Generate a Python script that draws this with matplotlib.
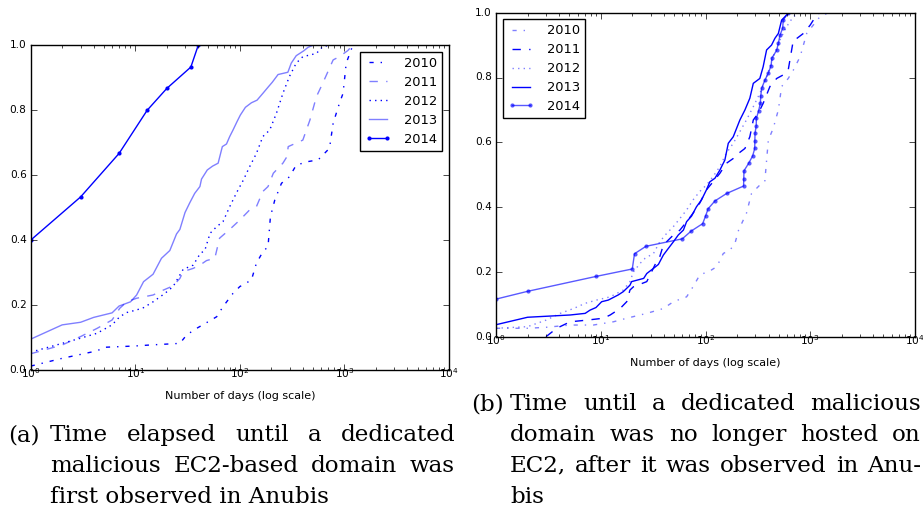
import matplotlib
matplotlib.use("Agg")
import matplotlib.pyplot as plt
from matplotlib.transforms import IdentityTransform

# ---------------- data ----------------
years = ["2010", "2011", "2012", "2013", "2014"]

# (a) time until first observed in Anubis
a2010_x = [1, 2, 3, 4.3, 5.1, 10, 13.8, 26.7, 31, 38.5, 50, 60, 69, 86, 100, 129, 144, 166, 186, 196,
           216, 250, 298, 346, 450, 560, 720, 780, 895, 970, 1040, 1160, 1200]
a2010_y = [0.012, 0.036, 0.048, 0.059, 0.07, 0.074, 0.077, 0.082, 0.108, 0.128, 0.149, 0.164, 0.195, 0.236,
           0.257, 0.277, 0.329, 0.364, 0.38, 0.472, 0.524, 0.575, 0.595, 0.631, 0.642, 0.647, 0.683, 0.76,
           0.821, 0.852, 0.945, 0.986, 1.0]
a2011_x = [1, 2, 3, 4.3, 6, 7.1, 8.3, 10.3, 14.8, 18.5, 23, 26.7, 28.7, 35.8, 41.5, 48, 57.6, 64, 80, 100,
           124, 144, 166, 186, 209, 258, 282, 290, 400, 468, 540, 620, 780, 895, 1080, 1190]
a2011_y = [0.05, 0.077, 0.103, 0.128, 0.154, 0.19, 0.21, 0.221, 0.231, 0.246, 0.259, 0.282, 0.303, 0.313,
           0.323, 0.337, 0.344, 0.406, 0.433, 0.462, 0.493, 0.503, 0.55, 0.565, 0.606, 0.637, 0.657, 0.688,
           0.708, 0.77, 0.842, 0.883, 0.955, 0.965, 0.984, 1.0]
a2012_x = [1, 2, 3, 4.3, 6, 7.1, 8.3, 10.3, 12, 14.8, 19.2, 23, 28.7, 35.8, 41.5, 46.4, 51.9, 59.8, 69, 80,
           93, 108, 124, 144, 166, 193, 224, 258, 298, 346, 400, 540, 620, 720]
a2012_y = [0.055, 0.082, 0.098, 0.113, 0.139, 0.164, 0.177, 0.185, 0.192, 0.21, 0.236, 0.257, 0.31, 0.323,
           0.357, 0.37, 0.421, 0.441, 0.457, 0.503, 0.546, 0.585, 0.626, 0.667, 0.719, 0.739, 0.791, 0.852,
           0.904, 0.945, 0.965, 0.975, 0.996, 1.0]
a2013_x = [1, 2, 3, 4, 6, 7, 9, 10.3, 12, 14.8, 17.8, 21.4, 24.8, 26.7, 29.9, 33.2, 37, 41.5, 43, 48.8,
           54.9, 62, 68, 74.5, 80, 86, 94, 101, 113, 129, 146, 166, 186, 204, 232, 288, 310, 346, 408, 450, 500]
a2013_y = [0.095, 0.139, 0.147, 0.162, 0.176, 0.197, 0.21, 0.231, 0.272, 0.295, 0.344, 0.368, 0.419, 0.433,
           0.485, 0.515, 0.544, 0.565, 0.588, 0.616, 0.628, 0.637, 0.688, 0.696, 0.719, 0.739, 0.765, 0.785,
           0.809, 0.823, 0.831, 0.852, 0.871, 0.886, 0.91, 0.917, 0.945, 0.968, 0.983, 0.994, 1.0]
a2014_x = [1, 3, 7, 13, 20, 34, 40]
a2014_y = [0.4, 0.533, 0.667, 0.8, 0.867, 0.933, 1.0]

# (b) time until no longer hosted on EC2
b2010_x = [1, 2, 3, 5.1, 8.5, 13.2, 17.7, 27.5, 39.6, 49.4, 66, 76, 88, 114, 128, 148, 171, 191, 207, 246,
           275, 330, 368, 398, 443, 496, 533, 616, 690, 800, 925, 1070, 1240, 1490]
b2010_y = [0.026, 0.026, 0.029, 0.036, 0.036, 0.046, 0.057, 0.072, 0.087, 0.108, 0.123, 0.154, 0.19, 0.206,
           0.216, 0.257, 0.267, 0.288, 0.329, 0.381, 0.442, 0.468, 0.478, 0.607, 0.643, 0.7, 0.772, 0.797,
           0.823, 0.864, 0.936, 0.962, 0.988, 1.0]
b2011_x = [3, 3.8, 5.1, 7.3, 10.6, 12.3, 15.3, 17.7, 19, 20.5, 27.5, 29.5, 34, 36.6, 39.6, 49.4, 57, 66, 76, 88,
           102, 118, 137, 158, 184, 207, 238, 265, 286, 318, 355, 412, 478, 552, 616, 690, 740, 860, 1000,
           1150, 1240]
b2011_y = [0.0, 0.026, 0.046, 0.051, 0.057, 0.067, 0.087, 0.108, 0.144, 0.154, 0.17, 0.19, 0.231, 0.247,
           0.283, 0.314, 0.329, 0.355, 0.381, 0.412, 0.453, 0.478, 0.504, 0.535, 0.55, 0.566, 0.581, 0.617,
           0.669, 0.689, 0.72, 0.772, 0.797, 0.808, 0.823, 0.916, 0.92, 0.936, 0.962, 0.993, 1.0]
b2012_x = [1, 2, 3, 4.1, 5.5, 7.1, 9.1, 12.3, 16.4, 19, 20.5, 23.7, 26.5, 31.9, 36.6, 42.6, 49.4, 57, 66, 76,
           88, 102, 118, 137, 158, 184, 213, 246, 286, 330, 383, 443, 514, 595, 690, 800]
b2012_y = [0.026, 0.031, 0.051, 0.072, 0.087, 0.103, 0.113, 0.123, 0.144, 0.17, 0.2, 0.226, 0.242, 0.257,
           0.293, 0.319, 0.34, 0.365, 0.391, 0.422, 0.448, 0.468, 0.494, 0.525, 0.566, 0.597, 0.633, 0.669,
           0.71, 0.751, 0.802, 0.864, 0.916, 0.957, 0.988, 1.0]
b2013_x = [1, 2, 5.1, 7.1, 7.9, 9, 10.2, 11.8, 14.7, 16.4, 19, 19.7, 25.7, 27.5, 31.9, 35.5, 39.6, 44.3, 49.4,
           55, 61.5, 66, 73.5, 82, 91.5, 102, 110, 123, 137, 153, 165, 184, 198, 213, 238, 265, 286, 330, 355,
           383, 427, 460, 496, 533, 595, 640]
b2013_y = [0.037, 0.06, 0.067, 0.072, 0.082, 0.09, 0.108, 0.113, 0.129, 0.139, 0.159, 0.17, 0.18, 0.195,
           0.211, 0.223, 0.252, 0.273, 0.293, 0.314, 0.329, 0.355, 0.372, 0.401, 0.422, 0.453, 0.478, 0.489,
           0.514, 0.545, 0.597, 0.617, 0.643, 0.669, 0.7, 0.736, 0.782, 0.797, 0.833, 0.885, 0.9, 0.921,
           0.936, 0.977, 0.993, 1.0]
b2014_x = [1, 2, 9, 20, 21, 27, 60, 73, 94, 100, 106, 123, 159, 231, 232, 233, 258, 282, 295, 296, 297, 305,
           306, 322, 334, 337, 344, 368, 398, 423, 430, 478, 497, 514, 546, 552, 616]
b2014_y = [0.116, 0.14, 0.186, 0.209, 0.256, 0.279, 0.302, 0.326, 0.349, 0.372, 0.395, 0.419, 0.442, 0.465,
           0.488, 0.512, 0.535, 0.558, 0.581, 0.605, 0.628, 0.651, 0.674, 0.698, 0.721, 0.744, 0.767, 0.791,
           0.814, 0.837, 0.86, 0.884, 0.907, 0.93, 0.953, 0.977, 1.0]

y_ticks = [0.0, 0.2, 0.4, 0.6, 0.8, 1.0]
x_label = "Number of days (log scale)"
caption_a = [["Time", "elapsed", "until", "a", "dedicated"],
             ["malicious", "EC2-based", "domain", "was"],
             ["first observed in Anubis"]]
caption_b = [["Time", "until", "a", "dedicated", "malicious"],
             ["domain", "was", "no", "longer", "hosted", "on"],
             ["EC2,", "after", "it", "was", "observed", "in", "Anu-"],
             ["bis"]]

# ---------------- style ----------------
plt.style.use("classic")
plt.rcParams.update({
    "figure.facecolor": "white",
    "savefig.facecolor": "white",
    "font.family": ["DejaVu Sans"],
    "xtick.labelsize": 7.6,
    "ytick.labelsize": 7.6,
    "xtick.major.pad": -2.5,
    "xtick.minor.pad": -2.5,
    "ytick.major.pad": 3,
})

W, H = 923, 515
fig = plt.figure(figsize=(W / 100, H / 100), dpi=100)

ax_a = fig.add_axes([30.7 / W, 1 - 370 / H, (449 - 30.7) / W, (370 - 45.3) / H])
ax_b = fig.add_axes([496 / W, 1 - 336.7 / H, (915 - 496) / W, (336.7 - 12.7) / H])

styles_a = [("-.", 1.0, None), ("--", 0.5, None), (":", 1.0, None), ("-", 0.5, None), ("-", 1.0, "o")]
styles_b = [("-.", 0.5, None), ("--", 1.0, None), (":", 0.5, None), ("-", 1.0, None), ("-", 0.65, "o")]

data_a = [(a2010_x, a2010_y), (a2011_x, a2011_y), (a2012_x, a2012_y), (a2013_x, a2013_y), (a2014_x, a2014_y)]
data_b = [(b2010_x, b2010_y), (b2011_x, b2011_y), (b2012_x, b2012_y), (b2013_x, b2013_y), (b2014_x, b2014_y)]

for ax, data, styles, loc in [(ax_a, data_a, styles_a, "upper right"), (ax_b, data_b, styles_b, "upper left")]:
    for (xs, ys), (ls, al, mk), lab in zip(data, styles, years):
        ax.plot(xs, ys, linestyle=ls, color="blue", alpha=al, lw=1.0,
                marker=mk, markersize=3, markeredgewidth=0, label=lab)
    ax.set_xscale("log")
    ax.set_xlim(1, 1e4)
    ax.set_ylim(0, 1)
    ax.set_yticks(y_ticks)
    ax.set_xlabel(x_label, fontsize=8)
    ax.xaxis.set_label_coords(0.5, -0.065)
    leg = ax.legend(loc=loc, fontsize=9.4, numpoints=2, handlelength=2.0, handletextpad=1.0,
                    borderaxespad=0.5, labelspacing=0.45, borderpad=0.4)
    leg.get_frame().set_linewidth(1.0)

# ---------------- captions ----------------
fig.canvas.draw()
r = fig.canvas.get_renderer()
serif = "DejaVu Serif"

probe = fig.text(0, 0, "first observed in Anubis", fontsize=10, family=serif, transform=IdentityTransform())
cap_size = 10 * 280.0 / probe.get_window_extent(renderer=r).width
probe.remove()


def put_line(words, x0, x1, ybase, justify):
    if not justify:
        fig.text(x0, H - ybase, " ".join(words), fontsize=cap_size, family=serif,
                 ha="left", va="baseline", transform=IdentityTransform())
        return
    ts = [fig.text(0, H - ybase, w, fontsize=cap_size, family=serif, ha="left", va="baseline",
                   transform=IdentityTransform()) for w in words]
    ws = [t.get_window_extent(renderer=r).width for t in ts]
    gap = (x1 - x0 - sum(ws)) / (len(ws) - 1)
    x = x0
    for t, w in zip(ts, ws):
        t.set_position((x, H - ybase))
        x += w + gap


fig.text(40, H - 441.2, "(a)", fontsize=cap_size, family=serif, ha="right", va="baseline",
         transform=IdentityTransform())
fig.text(504, H - 410.5, "(b)", fontsize=cap_size, family=serif, ha="right", va="baseline",
         transform=IdentityTransform())

base_a = [441.2, 471.9, 502.6]
for i, words in enumerate(caption_a):
    put_line(words, 50, 455, base_a[i], justify=(i < len(caption_a) - 1))
base_b = [410.5, 441.2, 471.9, 502.6]
for i, words in enumerate(caption_b):
    put_line(words, 510, 921, base_b[i], justify=(i < len(caption_b) - 1))

fig.savefig("out.png", dpi=100)
